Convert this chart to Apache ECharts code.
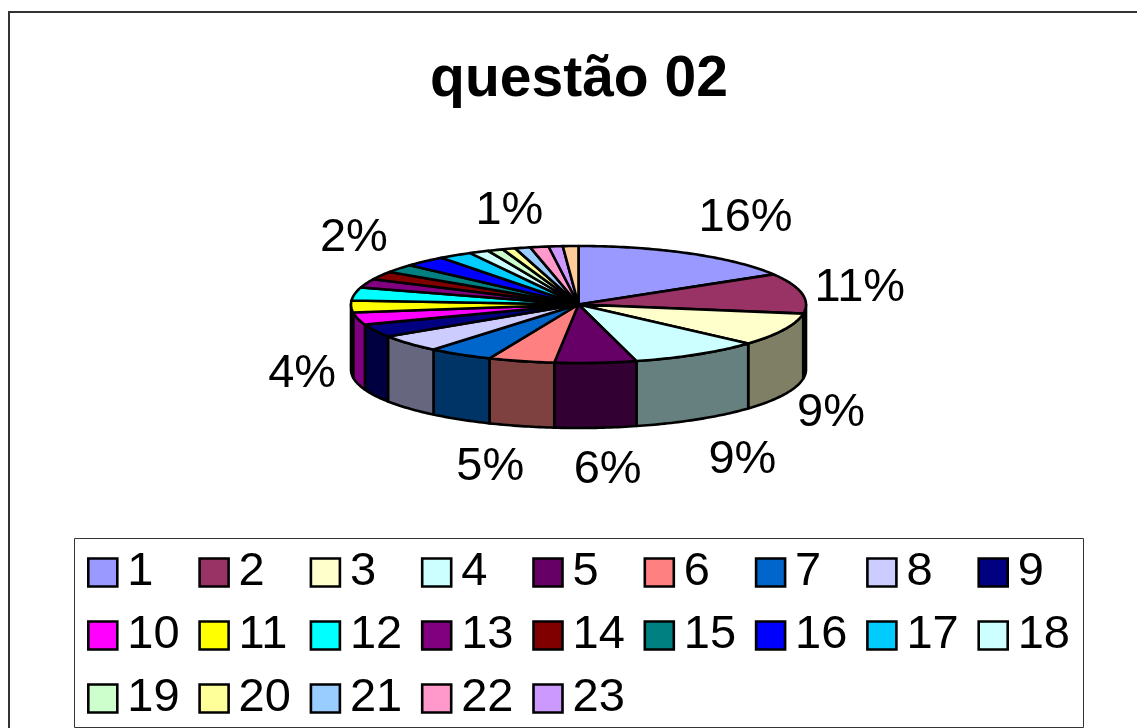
<!DOCTYPE html>
<html lang="pt">
<head>
    <meta charset="utf-8">
    <title>questão 02</title>
    <script src="https://cdn.jsdelivr.net/npm/echarts@6/dist/echarts.min.js"></script>
    <style>
        html, body { margin: 0; padding: 0; background: #fff; }
        #chart { width: 1137px; height: 728px; }
    </style>
</head>
<body>
    <div id="chart"></div>
    <script>
        var categories = ['1','2','3','4','5','6','7','8','9','10','11','12','13','14','15','16','17','18','19','20','21','22','23','24'];
        var values = [16.4,11.1,9.1,9.3,5.8,4.7,4.6,4.8,3.6,3.4,3.3,3.6,2.4,2.3,2.3,3.0,2.4,1.4,1.1,0.9,1.1,1.3,1.0,1.1];
        var topColors = ['#9999FF','#993366','#FFFFCC','#CCFFFF','#660066','#FF8080','#0066CC','#CCCCFF','#000080','#FF00FF','#FFFF00','#00FFFF','#800080','#800000','#008080','#0000FF','#00CCFF','#CCFFFF','#CCFFCC','#FFFF99','#99CCFF','#FF99CC','#CC99FF','#FFCC99'];
        // the 24th slice has no legend entry in the picture
        var legendNames = categories.slice(0, 23);
        // only these slices carry a percentage, text centre = rim point + offset
        var labelOffsets = {
            '1': [55, -36], '2': [58, -5], '3': [47, 83], '4': [45, 106], '5': [12, 107],
            '6': [-31, 106], '9': [-73, 43], '14': [-27, -37], '22': [-30, -36]
        };

        var FONT = '"Liberation Sans", Arial, sans-serif';
        var cx = 578.5, cy = 304.5, rx = 227.5, ry = 58.5, depth = 65;
        var total = values.reduce(function (a, b) { return a + b; }, 0);

        function darken(hex) {
            var n = parseInt(hex.slice(1), 16);
            return 'rgb(' + ((n >> 16) >> 1) + ',' + (((n >> 8) & 255) >> 1) + ',' + ((n & 255) >> 1) + ')';
        }
        // angle in radians, clockwise from 12 o'clock
        function rim(a, drop) {
            return [cx + rx * Math.sin(a), cy - ry * Math.cos(a) + (drop || 0)];
        }
        function arc(a0, a1, drop) {
            var pts = [], n = Math.max(2, Math.ceil((a1 - a0) * 60));
            for (var i = 0; i <= n; i++) pts.push(rim(a0 + (a1 - a0) * i / n, drop));
            return pts;
        }

        function renderSlice(params, api) {
            var a0 = api.value(0) / total * 2 * Math.PI;
            var a1 = api.value(1) / total * 2 * Math.PI;
            var name = categories[params.seriesIndex];
            var color = topColors[params.seriesIndex];
            var children = [];

            // side wall, only the front half of the disc shows
            var w0 = Math.max(a0, Math.PI / 2), w1 = Math.min(a1, Math.PI * 1.5);
            if (w1 > w0) {
                children.push({
                    type: 'polygon', z2: 1,
                    shape: { points: arc(w0, w1, 0).concat(arc(w0, w1, depth).reverse()) },
                    style: { fill: darken(color), stroke: '#000', lineWidth: 2.6, lineJoin: 'round' }
                });
            }
            children.push({
                type: 'polygon', z2: 5,
                shape: { points: [[cx, cy]].concat(arc(a0, a1, 0)) },
                style: { fill: color, stroke: '#000', lineWidth: 2.6, lineJoin: 'round' }
            });
            if (labelOffsets[name]) {
                var p = rim((a0 + a1) / 2, 0);
                children.push({
                    type: 'text', z2: 10,
                    style: {
                        x: p[0] + labelOffsets[name][0], y: p[1] + labelOffsets[name][1],
                        text: Math.round(api.value(2) / total * 100) + '%',
                        fill: '#000', font: '47px ' + FONT, align: 'center', verticalAlign: 'middle'
                    }
                });
            }
            return { type: 'group', children: children };
        }

        var running = 0;
        var series = categories.map(function (name, i) {
            var start = running;
            running += values[i];
            return {
                type: 'custom', name: name, coordinateSystem: 'none', silent: true,
                animation: false, clip: false,
                itemStyle: { color: topColors[i] },
                data: [[start, running, values[i]]],
                renderItem: renderSlice
            };
        });

        var chart = echarts.init(document.getElementById('chart'), null, { renderer: 'canvas' });
        chart.setOption({
            backgroundColor: '#fff',
            animation: false,
            title: {
                text: 'questão 02', left: 574, top: 47, textAlign: 'center',
                textStyle: { fontFamily: FONT, fontSize: 57, fontWeight: 'bold', color: '#000' }
            },
            legend: {
                data: legendNames, left: 87, top: 541, width: 1030, padding: 0, itemGap: 0,
                itemWidth: 29, itemHeight: 28, icon: 'rect', selectedMode: false,
                itemStyle: { borderColor: '#000', borderWidth: 2.6 },
                textStyle: { fontFamily: FONT, fontSize: 47, color: '#000', width: 71, lineHeight: 63, padding: [0, 0, 0, 5] }
            },
            graphic: [
                { type: 'polyline', z: -1, shape: { points: [[9, 728], [9, 12], [1137, 12]] }, style: { fill: 'none', stroke: '#333', lineWidth: 2 } },
                { type: 'rect', z: -1, shape: { x: 74.5, y: 538.5, width: 1009, height: 189 }, style: { fill: '#fff', stroke: '#333', lineWidth: 1 } }
            ],
            series: series
        });
    </script>
</body>
</html>
